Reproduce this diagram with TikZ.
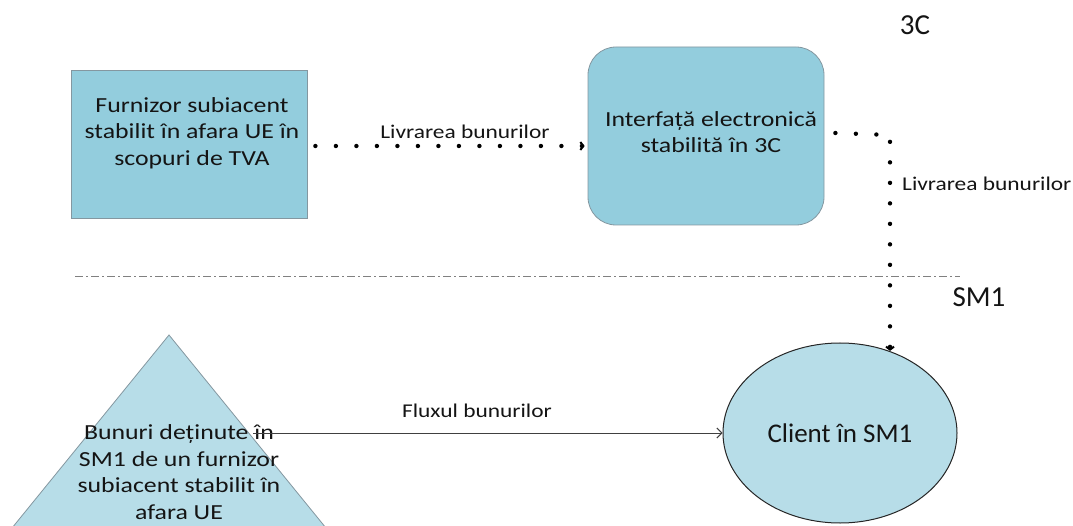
\documentclass[tikz,border=0pt]{standalone}
\usepackage{fontspec}
\setmainfont{Carlito}
\newfontfamily\widefont[FakeStretch=1.2]{Carlito}
\usetikzlibrary{arrows.meta,shapes.geometric}
\definecolor{boxfill}{HTML}{93CDDD}
\definecolor{lightfill}{HTML}{B7DDE8}
\definecolor{edgegray}{HTML}{8497A0}
\definecolor{txt}{HTML}{141414}
\definecolor{flux}{HTML}{404040}
\begin{document}
\begin{tikzpicture}[x=1pt,y=-1pt,
  box/.style={draw=edgegray, fill=boxfill, line width=0.8pt, inner sep=0pt},
  boxtext/.style={font=\widefont\fontsize{21.5}{26.5}\selectfont, align=center, text=txt, inner sep=0pt},
  lbl/.style={font=\widefont\fontsize{19.5}{22}\selectfont, text=txt, inner sep=0pt},
  bigtext/.style={font=\fontsize{29}{32}\selectfont, text=txt, inner sep=0pt},
  dotline/.style={line width=4.4pt, dash pattern=on 0pt off 20.5pt, line cap=round, draw=black},
  chev/.style={-{Straight Barb[length=3pt,width=8pt,line width=2pt]}},
  fluxline/.style={draw=flux, line width=1pt, -{Straight Barb[length=5pt,width=10pt,line width=1pt]}},
  divider/.style={draw=gray, line width=1pt, dash pattern=on 8pt off 3pt on 2pt off 3pt}
]
\useasboundingbox (0,0) rectangle (1073,526);

% upper boxes
\node[box, minimum width=236pt, minimum height=148pt] (sup) at (189,144) {};
\node[boxtext] (supt) at (192,133) {Furnizor subiacent\\stabilit în afara UE în\\scopuri de TVA};
\node[box, rounded corners=28pt, minimum width=236pt, minimum height=178pt] (iface) at (706,136) {};
\node[boxtext] (ifacet) at (711,132) {Interfață electronică\\stabilită în 3C};

\node[bigtext] (c3) at (915,25) {3C};
\node[bigtext] (sm1) at (979,297) {SM1};

% divider
\coordinate (dl) at (75,277);
\coordinate (dr) at (960,277);
\draw[divider] (dl) -- (dr);

% triangle
\coordinate (apex) at (169,335);
\coordinate (bl) at (12,528);
\coordinate (br) at (326,528);
\fill[lightfill] (apex) -- (bl) -- (br) -- cycle;
\draw[edgegray, line width=0.8pt] (bl) -- (apex) -- (br);
\node[boxtext] (trit) at (179,472) {Bunuri deținute în\\SM1 de un furnizor\\subiacent stabilit în\\afara UE};

% client
\node[draw=black!85, fill=lightfill, ellipse, minimum width=234pt, minimum height=180pt,
  inner sep=0pt, line width=1pt, font=\fontsize{27}{30}\selectfont, text=txt] (client) at (840,433) {Client în SM1};

% connectors
\draw[dotline, chev] ([shift={(8,2)}]sup.east) -- ([shift={(-3,2)}]sup.east -| iface.west);
\node[lbl] (l1) at (465,132) {Livrarea bunurilor};

\coordinate (turn) at (890,135);
\draw[dotline, chev] ([shift={(11,-3)}]iface.east) -- (turn) -- (turn |- client.59);
\node[lbl, anchor=west] (l2) at (902,184) {Livrarea bunurilor};

\coordinate (fs) at (253,433);
\draw[fluxline] (fs) -- (client.west);
\node[lbl] (l3) at (477,411) {Fluxul bunurilor};
\end{tikzpicture}
\end{document}
